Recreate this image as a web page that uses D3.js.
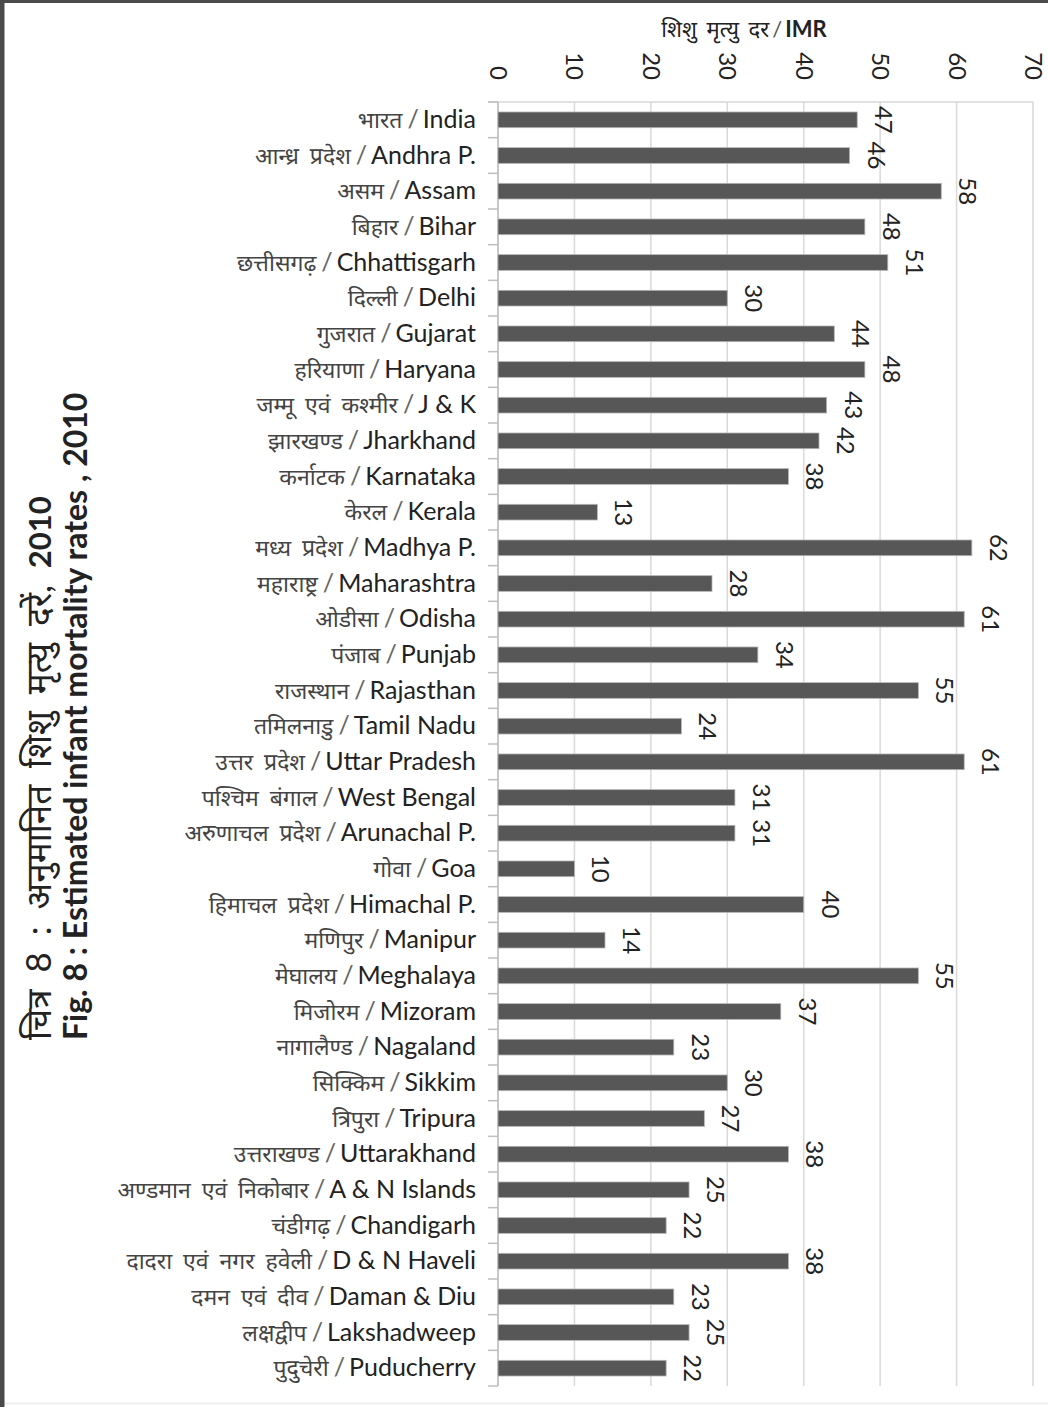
<!DOCTYPE html>
<html>
<head>
<meta charset="utf-8">
<script src="https://cdn.jsdelivr.net/npm/d3@7"></script>
<style>
    body { margin: 0; background: #fff; }
    svg { display: block; font-family: Lato, 'Open Sans', 'Noto Sans', sans-serif; }
</style>
</head>
<body>
<div id="chart"></div>
<script>
// Data
const statesHindi = [
    'भारत', 'आन्ध्र प्रदेश', 'असम', 'बिहार', 'छत्तीसगढ़', 'दिल्ली', 'गुजरात', 'हरियाणा',
    'जम्मू एवं कश्मीर', 'झारखण्ड', 'कर्नाटक', 'केरल', 'मध्य प्रदेश', 'महाराष्ट्र', 'ओडीसा',
    'पंजाब', 'राजस्थान', 'तमिलनाडु', 'उत्तर प्रदेश', 'पश्चिम बंगाल', 'अरुणाचल प्रदेश', 'गोवा',
    'हिमाचल प्रदेश', 'मणिपुर', 'मेघालय', 'मिजोरम', 'नागालैण्ड', 'सिक्किम', 'त्रिपुरा',
    'उत्तराखण्ड', 'अण्डमान एवं निकोबार', 'चंडीगढ़', 'दादरा एवं नगर हवेली', 'दमन एवं दीव',
    'लक्षद्वीप', 'पुदुचेरी',
];
const statesEnglish = [
    'India', 'Andhra P.', 'Assam', 'Bihar', 'Chhattisgarh', 'Delhi', 'Gujarat', 'Haryana',
    'J & K', 'Jharkhand', 'Karnataka', 'Kerala', 'Madhya P.', 'Maharashtra', 'Odisha',
    'Punjab', 'Rajasthan', 'Tamil Nadu', 'Uttar Pradesh', 'West Bengal', 'Arunachal P.', 'Goa',
    'Himachal P.', 'Manipur', 'Meghalaya', 'Mizoram', 'Nagaland', 'Sikkim', 'Tripura',
    'Uttarakhand', 'A &  N Islands', 'Chandigarh', 'D & N Haveli', 'Daman & Diu',
    'Lakshadweep', 'Puducherry',
];
const imrValues = [
    47, 46, 58, 48, 51, 30, 44, 48, 43, 42, 38, 13, 62, 28, 61, 34, 55, 24,
    61, 31, 31, 10, 40, 14, 55, 37, 23, 30, 27, 38, 25, 22, 38, 23, 25, 22,
];
const xTicks = [0, 10, 20, 30, 40, 50, 60, 70];

const titleHindi = 'चित्र 8 : अनुमानित शिशु मृत्यु दरें, ';
const titleEnglish = 'Fig. 8 : Estimated infant mortality rates , 2010';
const axisTitleHindi = 'शिशु मृत्यु दर';
const axisTitleEnglish = 'IMR';

const width = 1048;
const height = 1407;
const plot = { left: 498, right: 1033, top: 102, bottom: 1386 };

const data = imrValues.map((value, i) => ({
    key: i,
    hindi: statesHindi[i],
    english: statesEnglish[i],
    value,
}));

const svg = d3.select('#chart')
    .append('svg')
        .attr('width', width)
        .attr('height', height);

// frame of the scanned page
svg.append('rect')
    .attr('x', 0).attr('y', 0)
    .attr('width', width).attr('height', height)
    .attr('fill', '#fff');
svg.append('line')
    .attr('x1', 0).attr('x2', width)
    .attr('y1', 1403.5).attr('y2', 1403.5)
    .attr('stroke', '#eee').attr('stroke-width', 2);
svg.append('line')
    .attr('x1', 2).attr('x2', 2)
    .attr('y1', 0).attr('y2', height)
    .attr('stroke', '#4a4a4a').attr('stroke-width', 5);
svg.append('line')
    .attr('x1', 0).attr('x2', width)
    .attr('y1', 1.5).attr('y2', 1.5)
    .attr('stroke', '#4a4a4a').attr('stroke-width', 3);

const x = d3.scaleLinear()
    .domain([0, 70])
    .range([plot.left, plot.right]);

const y = d3.scaleBand()
    .domain(data.map(d => d.key))
    .range([plot.top, plot.bottom])
    .paddingInner(0.56)
    .paddingOuter(0.28);

// vertical gridlines
svg.append('g')
    .selectAll('line')
    .data(xTicks)
    .join('line')
        .attr('x1', d => x(d)).attr('x2', d => x(d))
        .attr('y1', plot.top).attr('y2', plot.bottom)
        .attr('stroke', '#d9d9d9')
        .attr('stroke-width', 1.5);

// top axis line
svg.append('line')
    .attr('x1', plot.left - 10).attr('x2', plot.right)
    .attr('y1', plot.top).attr('y2', plot.top)
    .attr('stroke', '#d9d9d9')
    .attr('stroke-width', 1.5);

// category axis with small ticks between the bars
const step = (plot.bottom - plot.top) / data.length;
svg.append('line')
    .attr('x1', plot.left).attr('x2', plot.left)
    .attr('y1', plot.top).attr('y2', plot.bottom)
    .attr('stroke', '#bfbfbf')
    .attr('stroke-width', 1.5);
svg.append('g')
    .selectAll('line')
    .data(d3.range(data.length + 1))
    .join('line')
        .attr('x1', plot.left - 10).attr('x2', plot.left)
        .attr('y1', d => plot.top + d * step).attr('y2', d => plot.top + d * step)
        .attr('stroke', '#bfbfbf')
        .attr('stroke-width', 1.5);

// tick labels, turned a quarter clockwise
svg.append('g')
    .selectAll('text')
    .data(xTicks)
    .join('text')
        .attr('transform', d => `translate(${x(d) - 8}, 80) rotate(90)`)
        .attr('text-anchor', 'end')
        .attr('font-size', '24px')
        .attr('fill', '#222')
        .text(d => d);

// axis title
const axisTitle = svg.append('text')
    .attr('x', 744)
    .attr('y', 37)
    .attr('text-anchor', 'middle')
    .attr('font-size', '22px')
    .attr('fill', '#222');
axisTitle.append('tspan').attr('word-spacing', '4px').text(axisTitleHindi);
axisTitle.append('tspan').attr('fill', '#555').attr('dx', 3).text('/');
axisTitle.append('tspan').attr('font-weight', 'bold').attr('dx', 3).text(axisTitleEnglish);

// bars
svg.append('g')
    .selectAll('rect')
    .data(data)
    .join('rect')
        .attr('x', x(0))
        .attr('y', d => y(d.key))
        .attr('width', d => x(d.value) - x(0))
        .attr('height', y.bandwidth())
        .attr('fill', '#575757')
        .attr('stroke', '#b5b5b5')
        .attr('stroke-width', 0.8);

// value labels
svg.append('g')
    .selectAll('text')
    .data(data)
    .join('text')
        .attr('transform', d => `translate(${x(d.value) + 18}, ${y(d.key) + y.bandwidth() / 2}) rotate(90)`)
        .attr('text-anchor', 'middle')
        .attr('font-size', '24px')
        .attr('fill', '#222')
        .text(d => d.value);

// category labels
const labels = svg.append('g')
    .selectAll('text')
    .data(data)
    .join('text')
        .attr('x', plot.left - 22)
        .attr('y', d => y(d.key) + y.bandwidth() / 2 + 8)
        .attr('text-anchor', 'end')
        .attr('font-size', '25px')
        .attr('fill', '#222');
labels.append('tspan')
    .attr('fill', '#444')
    .attr('font-size', '23px')
    .attr('word-spacing', '5px')
    .text(d => d.hindi);
labels.append('tspan')
    .attr('fill', '#666')
    .attr('dx', 5)
    .text('/');
labels.append('tspan')
    .attr('dx', 4)
    .text(d => d.english);

// chart title, read from bottom to top
const title = svg.append('g')
    .attr('transform', 'translate(0, 1040) rotate(-90)');
const titleLine1 = title.append('text')
    .attr('x', 0)
    .attr('y', 51)
    .attr('font-size', '35px')
    .attr('word-spacing', '8px')
    .attr('fill', '#222');
titleLine1.append('tspan').text(titleHindi);
titleLine1.append('tspan').attr('font-weight', 'bold').attr('font-size', '31px').text('2010');
title.append('text')
    .attr('x', 0)
    .attr('y', 87)
    .attr('font-size', '32px')
    .attr('font-weight', 'bold')
    .attr('fill', '#222')
    .text(titleEnglish);
</script>
</body>
</html>
